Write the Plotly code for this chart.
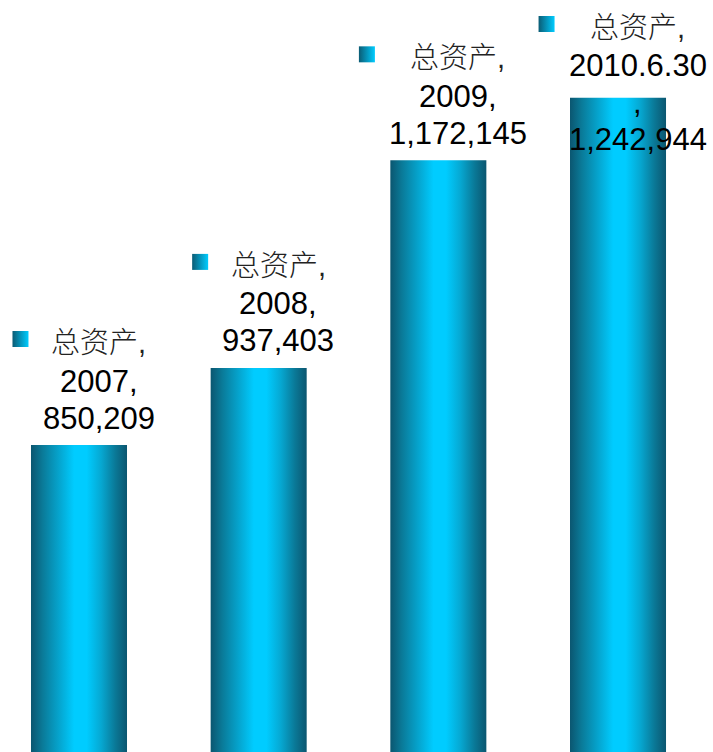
import plotly.graph_objects as go

# Total assets by period
series_name = "总资产"
categories = ["2007", "2008", "2009", "2010.6.30"]
values = [850209, 937403, 1172145, 1242944]

W, H = 713, 752
X_RANGE = [-0.4397, 3.5287]
Y_RANGE = [503030, 1353460]
BAR_HALF = 0.2672

DARK = "#0B5C75"
BRIGHT = "#00CCFF"
bar_scale = [
    [0.0, "#0B5670"], [0.12, "#0A7A98"], [0.3, "#05A6D0"], [0.45, "#00CCFF"],
    [0.58, "#00CCFF"], [0.73, "#06A8D2"], [0.88, "#0A7896"], [1.0, "#0B5670"],
]

FONT = "Liberation Sans, Arial, Noto Sans CJK SC, sans-serif"
NUM_SIZE = 31
CJK_SIZE = 29
LINE_GAP = 37
MAX_LINE_PX = 140

px_per_x = W / (X_RANGE[1] - X_RANGE[0])
units_per_py = (Y_RANGE[1] - Y_RANGE[0]) / H


def y_to_px(v):
    return (Y_RANGE[1] - v) / units_per_py


def text_width(s, size):
    w = 0.0
    for ch in s:
        if ord(ch) > 0x2E80:
            w += 1.0
        elif ch in ",.":
            w += 0.278
        else:
            w += 0.556
    return w * size


def label_lines(cat, val):
    lines = [(series_name + ",", CJK_SIZE)]
    cat_line = cat + ","
    if text_width(cat_line, NUM_SIZE) > MAX_LINE_PX:
        lines += [(cat, NUM_SIZE), (",", NUM_SIZE)]
    else:
        lines.append((cat_line, NUM_SIZE))
    lines.append((f"{val:,}", NUM_SIZE))
    return lines


fig = go.Figure()
annotations = []

for i, (cat, val) in enumerate(zip(categories, values)):
    # cylinder-style bar: rectangle filled with a horizontal gradient
    fig.add_trace(go.Scatter(
        x=[i - BAR_HALF, i + BAR_HALF, i + BAR_HALF, i - BAR_HALF, i - BAR_HALF],
        y=[0, 0, val, val, 0],
        mode="lines", fill="toself", line=dict(width=0, color=DARK),
        fillgradient=dict(type="horizontal", colorscale=bar_scale),
        hoverinfo="skip", showlegend=False,
    ))

    lines = label_lines(cat, val)
    top_px = y_to_px(val)
    first_px = max(top_px - 28 - LINE_GAP * (len(lines) - 1), 28)
    text_dx = 19.5
    for k, (txt, size) in enumerate(lines):
        line_px = first_px + LINE_GAP * k
        cjk = size == CJK_SIZE
        annotations.append(dict(
            x=i, y=val, xref="x", yref="y", text=txt, showarrow=False,
            xanchor="center", yanchor="middle",
            xshift=text_dx, yshift=top_px - line_px - (1 if not cjk else 0),
            font=dict(family=FONT, size=size,
                      color="#222222" if cjk else "black",
                      weight=300 if cjk else 400),
        ))

    # legend key beside the first label line
    widest = max(text_width(t, s) for t, s in lines)
    key_cx = text_dx - widest / 2 - 14 - 8
    key_cy = first_px - 4
    fig.add_trace(go.Scatter(
        x=[i + key_cx / px_per_x], y=[val + (top_px - key_cy) * units_per_py],
        mode="markers",
        marker=dict(symbol="square", size=16, color=DARK, line=dict(width=0),
                    gradient=dict(type="horizontal", color=BRIGHT)),
        hoverinfo="skip", showlegend=False,
    ))

fig.update_layout(
    width=W, height=H,
    margin=dict(l=0, r=0, t=0, b=0),
    paper_bgcolor="white", plot_bgcolor="white",
    xaxis=dict(range=X_RANGE, visible=False, fixedrange=True),
    yaxis=dict(range=Y_RANGE, visible=False, fixedrange=True),
    annotations=annotations,
    showlegend=False,
)

fig.write_html("out.html")
